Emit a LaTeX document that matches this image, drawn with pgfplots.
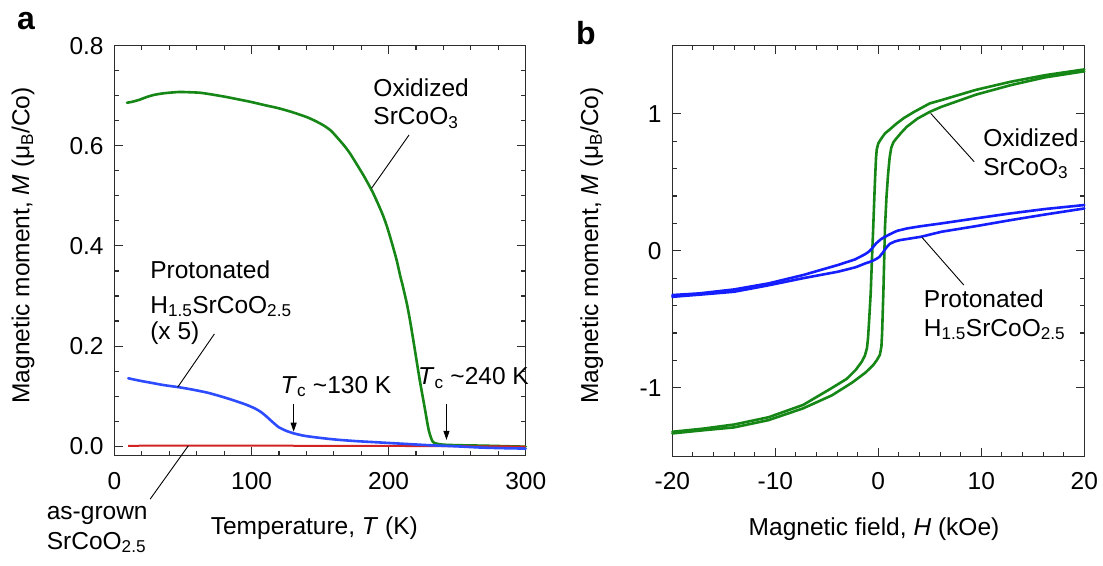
\documentclass[border=0pt]{standalone}
\usepackage{pgfplots}
\pgfplotsset{compat=1.18}
\usepackage{fontspec}
\setmainfont{Liberation Sans}
\usetikzlibrary{arrows.meta}

\definecolor{oxgreen}{RGB}{22,135,22}
\definecolor{protblue}{RGB}{45,75,255}
\definecolor{hystblue}{RGB}{20,30,255}
\definecolor{grownred}{RGB}{210,35,35}
\definecolor{axgray}{RGB}{45,45,45}

\newcommand\fs{\fontsize{24.5}{29.4}\selectfont}

\pgfplotsset{
  magaxis/.style={
    scale only axis,
    clip=false,
    axis line style={axgray, line width=1.3pt},
    every tick/.style={axgray, line width=1.1pt},
    major tick length=8.5pt,
    minor tick length=4.5pt,
    tick align=inside,
    tick pos=both,
    font=\fs,
    /pgf/number format/assume math mode=true,
    xticklabel style={inner sep=0pt, yshift=-16pt},
    yticklabel style={inner sep=0pt, xshift=-10.7pt},
  },
}
\tikzset{
  curve/.style={line width=2.6pt, line join=round, line cap=round},
  lead/.style={black, line width=0.9pt},
  lbl/.style={anchor=base west, inner sep=0pt, font=\fs},
  panel/.style={anchor=base west, inner sep=0pt, font=\fontsize{32}{38}\selectfont\bfseries},
}

\begin{document}
\fs
\begin{tikzpicture}[font=\fs]
\path[use as bounding box] (0,0) rectangle (1103pt,565pt);

\node[panel] at (17pt,535.7pt) {a};
\node[panel] at (576pt,520pt) {b};

% ---- panel a: M(T)
\begin{axis}[
  magaxis,
  width=411.2pt, height=410pt,
  at={(114.5pt,109.3pt)}, anchor=south west,
  xmin=0, xmax=300, ymin=-0.019, ymax=0.8,
  xtick={0,100,200,300}, minor x tick num=4,
  ytick={0,0.2,0.4,0.6,0.8}, minor y tick num=3,
  yticklabel style={/pgf/number format/.cd, fixed, fixed zerofill, precision=1},
  xlabel={Temperature, \textit{T} (K)},
  ylabel={Magnetic moment, \textit{M} (μ\textsubscript{B}/Co)},
  every axis x label/.style={at={(axis description cs:0.486,-0.1934)}, anchor=base},
  every axis y label/.style={at={(axis description cs:-0.2225,0.5127)}, rotate=90, anchor=center},
]
\addplot[curve, oxgreen, smooth, tension=0.4] coordinates {
  (9.1,0.686) (13,0.688) (18.2,0.692) (23,0.697) (28.6,0.7016) (36,0.705)
  (46.9,0.7075) (55,0.707) (62.5,0.706) (70,0.703) (80.7,0.698) (90,0.693)
  (99,0.688) (110,0.681) (119.8,0.675) (130,0.667) (140.6,0.657) (147,0.649)
  (153,0.640) (158,0.630) (163,0.615) (168,0.599) (172,0.584) (177,0.562)
  (182.3,0.538) (188.8,0.505) (195.3,0.465) (199,0.437) (203.1,0.399) (206,0.370)
  (208.3,0.342) (210.5,0.318) (213.5,0.282) (216,0.245) (218.75,0.199) (222.7,0.132)
  (226.6,0.0725) (228,0.050) (229.2,0.0326) (230.5,0.020) (231.8,0.0106)
  (233,0.007) (236,0.0045) (240,0.003) (250,0.002) (270,0.001) (300,-0.001)
};
\addplot[line width=2pt, grownred] coordinates {
  (10,0.0008) (50,0.0012) (100,0.001) (150,0.0008) (200,0.0005) (250,0.0) (300,-0.0008)
};
\addplot[curve, protblue, smooth, tension=0.4] coordinates {
  (10,0.1357) (18,0.131) (26,0.127) (36,0.122) (46.9,0.1178) (57,0.113)
  (67.7,0.107) (77,0.100) (85.9,0.0925) (95,0.084) (102,0.076) (107,0.068)
  (111,0.059) (115,0.049) (119.8,0.038) (125,0.031) (130.2,0.026) (138,0.021)
  (145.8,0.018) (155,0.015) (164,0.0126) (177,0.010) (190,0.008) (203,0.006)
  (216,0.004) (229,0.002) (242,0.0006) (255,-0.001) (268,-0.0028) (284,-0.004)
  (300,-0.0048)
};
\draw[lead] (axis cs:214.9,0.6217) -- (axis cs:187.5,0.515);
\draw[lead] (axis cs:72.9,0.2243) -- (axis cs:46.1,0.1178);
\draw[lead] (axis cs:26.0,-0.1058) -- (axis cs:53.9,0.001);
\draw[lead, -{Triangle[length=9pt,width=6pt]}] (axis cs:130.7,0.0845) -- (axis cs:130.7,0.029);
\draw[lead, -{Triangle[length=9pt,width=6pt]}] (axis cs:242.2,0.0845) -- (axis cs:242.2,0.0126);
\node[lbl] at (axis cs:188.8,0.698) {Oxidized};
\node[lbl] at (axis cs:188.8,0.642) {SrCoO\textsubscript{3}};
\node[lbl] at (axis cs:26.0,0.3355) {Protonated};
\node[lbl] at (axis cs:26.0,0.2656) {H\textsubscript{1.5}SrCoO\textsubscript{2.5}};
\node[lbl] at (axis cs:26.0,0.2123) {(x 5)};
\node[lbl] at (axis cs:-49.5,-0.1472) {as-grown};
\node[lbl] at (axis cs:-49.5,-0.2057) {SrCoO\textsubscript{2.5}};
\node[lbl] at (axis cs:121.1,0.1058) {\textit{T}\textsubscript{c} \textasciitilde130 K};
\node[lbl] at (axis cs:221.4,0.1224) {\textit{T}\textsubscript{c} \textasciitilde240 K};
\end{axis}

% ---- panel b: M(H)
\begin{axis}[
  magaxis,
  width=412pt, height=411pt,
  at={(672.3pt,108.7pt)}, anchor=south west,
  xmin=-20, xmax=20, ymin=-1.5, ymax=1.5,
  xtick={-20,-10,0,10,20}, minor x tick num=4,
  ytick={-1,0,1}, minor y tick num=4,
  xlabel={Magnetic field, \textit{H} (kOe)},
  ylabel={Magnetic moment, \textit{M} (μ\textsubscript{B}/Co)},
  every axis x label/.style={at={(axis description cs:0.4896,-0.1915)}, anchor=base},
  every axis y label/.style={at={(axis description cs:-0.1956,0.513)}, rotate=90, anchor=center},
]
% oxidized, field sweeping down
\addplot[curve, oxgreen] coordinates {
  (20,1.324) (16.2,1.282) (12.85,1.234) (9.49,1.175) (6.13,1.10) (5.0,1.076)
  (3.5,1.015) (2.5,0.97) (1.79,0.93) (1.1,0.885) (0.65,0.857) (0.25,0.815)
  (0.0,0.784) (-0.15,0.74) (-0.22,0.68) (-0.3,0.55) (-0.37,0.42) (-0.49,0.175)
  (-0.62,-0.07) (-0.74,-0.311) (-0.9,-0.52) (-1.0,-0.64) (-1.1,-0.71) (-1.3,-0.765)
  (-1.61,-0.81) (-2.2,-0.87) (-3.07,-0.935) (-4.7,-1.01) (-7.3,-1.125)
  (-10.66,-1.215) (-14,-1.268) (-17,-1.298) (-20,-1.321)
};
% oxidized, field sweeping up
\addplot[curve, oxgreen] coordinates {
  (-20,-1.333) (-17,-1.31) (-14,-1.289) (-10.66,-1.236) (-7.3,-1.15) (-4.5,-1.055)
  (-2.5,-0.96) (-1.26,-0.89) (-0.5,-0.835) (-0.16,-0.80) (0.15,-0.76) (0.3,-0.70)
  (0.37,-0.6) (0.45,-0.4) (0.49,-0.311) (0.57,-0.07) (0.65,0.175) (0.8,0.40)
  (0.95,0.56) (1.1,0.68) (1.25,0.75) (1.45,0.79) (1.62,0.808) (2.2,0.86)
  (2.76,0.905) (3.8,0.965) (5.02,1.015) (6.13,1.051) (9.49,1.14) (12.85,1.209)
  (16.2,1.266) (20,1.31)
};
% protonated, down
\addplot[curve, hystblue] coordinates {
  (20,0.334) (16.2,0.305) (12.85,0.273) (9.49,0.237) (6.13,0.2) (4,0.178)
  (2.77,0.163) (1.8,0.145) (1.1,0.12) (0.6,0.10) (0.26,0.085) (-0.2,0.055)
  (-0.585,0.02) (-0.9,-0.005) (-1.26,-0.024) (-2.26,-0.063) (-3.94,-0.104)
  (-7.3,-0.177) (-10.66,-0.238) (-14,-0.282) (-17.4,-0.311) (-20,-0.323)
};
% protonated, up
\addplot[curve, hystblue] coordinates {
  (-20,-0.336) (-17,-0.318) (-14,-0.299) (-10.66,-0.252) (-7.3,-0.2) (-3.94,-0.153)
  (-2.2,-0.12) (-1.26,-0.092) (-0.6,-0.075) (-0.25,-0.062) (0.1,-0.045) (0.42,-0.015)
  (0.8,0.025) (1.1,0.05) (1.6,0.068) (2.1,0.078) (4.12,0.102) (6.13,0.139)
  (9.49,0.18) (12.85,0.224) (16.2,0.265) (20,0.309)
};
\draw[lead] (axis cs:9.31,0.65) -- (axis cs:5.09,1.003);
\draw[lead] (axis cs:8.3,-0.25) -- (axis cs:4.24,0.098);
\node[lbl] at (axis cs:10.17,0.759) {Oxidized};
\node[lbl] at (axis cs:10.17,0.5526) {SrCoO\textsubscript{3}};
\node[lbl] at (axis cs:4.41,-0.413) {Protonated};
\node[lbl] at (axis cs:4.41,-0.6226) {H\textsubscript{1.5}SrCoO\textsubscript{2.5}};
\end{axis}
\end{tikzpicture}
\end{document}
